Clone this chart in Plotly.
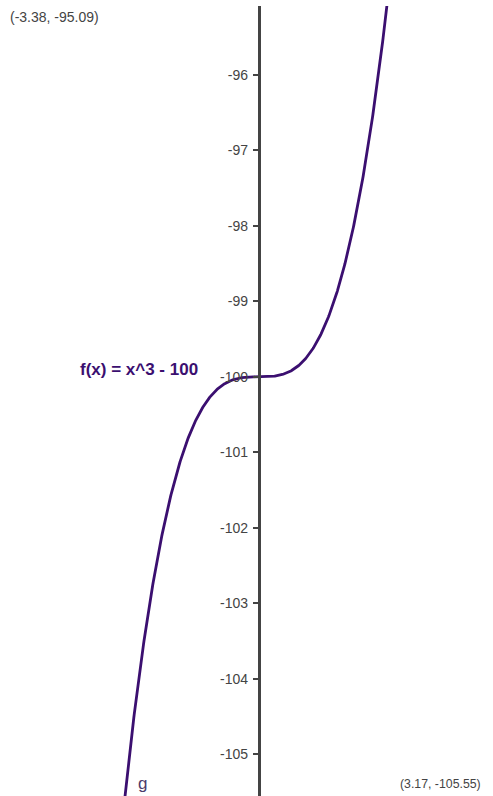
import numpy as np
import plotly.graph_objects as go

# --- data ---
func_label = "f(x) = x^3 - 100"
curve_name = "g"
x_samples = np.linspace(-1.80, 1.72, 600)
y_samples = x_samples ** 3 - 100          # the plotted function f(x) = x^3 - 100
y_tick_vals = [-96, -97, -98, -99, -100, -101, -102, -103, -104, -105]
y_tick_text = ["-96", "-97", "-98", "-99", "-100", "-101", "-102", "-103", "-104", "-105"]
corner_top_left = "(-3.38, -95.09)"
corner_bottom_right = "(3.17, -105.55)"

W, H = 493, 796
x_range = [-3.425, 3.105]
y_range = [-105.55, -95.09]
curve_color = "#3b0f70"

fig = go.Figure()
fig.add_trace(go.Scatter(
    x=x_samples, y=y_samples, mode="lines",
    line=dict(color=curve_color, width=2.8),
    hoverinfo="skip", showlegend=False,
))

axis_pos = (0 - x_range[0]) / (x_range[1] - x_range[0])

fig.update_layout(
    width=W, height=H,
    margin=dict(l=0, r=0, t=6, b=0, pad=0),
    paper_bgcolor="white", plot_bgcolor="white",
    font=dict(family="Liberation Sans, Arial, sans-serif", color="#444"),
    xaxis=dict(range=x_range, visible=False, showgrid=False, zeroline=False, fixedrange=True),
    yaxis=dict(
        range=y_range, showgrid=False, zeroline=False,
        anchor="free", position=axis_pos,
        showline=True, linecolor="#444", linewidth=2.5,
        ticks="outside", ticklen=5, tickwidth=2, tickcolor="#444",
        tickvals=y_tick_vals, ticktext=y_tick_text,
        tickfont=dict(size=14, color="#444"),
        ticklabelstandoff=2,
    ),
    annotations=[
        dict(text="<b>" + func_label + "</b>", x=-1.585, y=-99.905, xref="x", yref="y",
             showarrow=False, xanchor="center", yanchor="middle",
             font=dict(size=17, color=curve_color, family="Liberation Sans, Arial, sans-serif")),
        dict(text=curve_name, x=-1.531, y=-105.39, xref="x", yref="y",
             showarrow=False, xanchor="center", yanchor="middle",
             font=dict(size=17, color="#4b3b6b")),
        dict(text=corner_top_left, x=8 / W, y=1 - 11 / 790, xref="paper", yref="paper",
             showarrow=False, xanchor="left", yanchor="middle",
             font=dict(size=14, color="#444")),
        dict(text=corner_bottom_right, x=483 / W, y=(796 - 784) / 790, xref="paper", yref="paper",
             showarrow=False, xanchor="right", yanchor="middle",
             font=dict(size=12.3, color="#444")),
    ],
)

fig.write_html(
    "out.html",
    config={"displayModeBar": False},
    post_script="document.body.style.margin='0';document.body.style.overflow='hidden';",
)
